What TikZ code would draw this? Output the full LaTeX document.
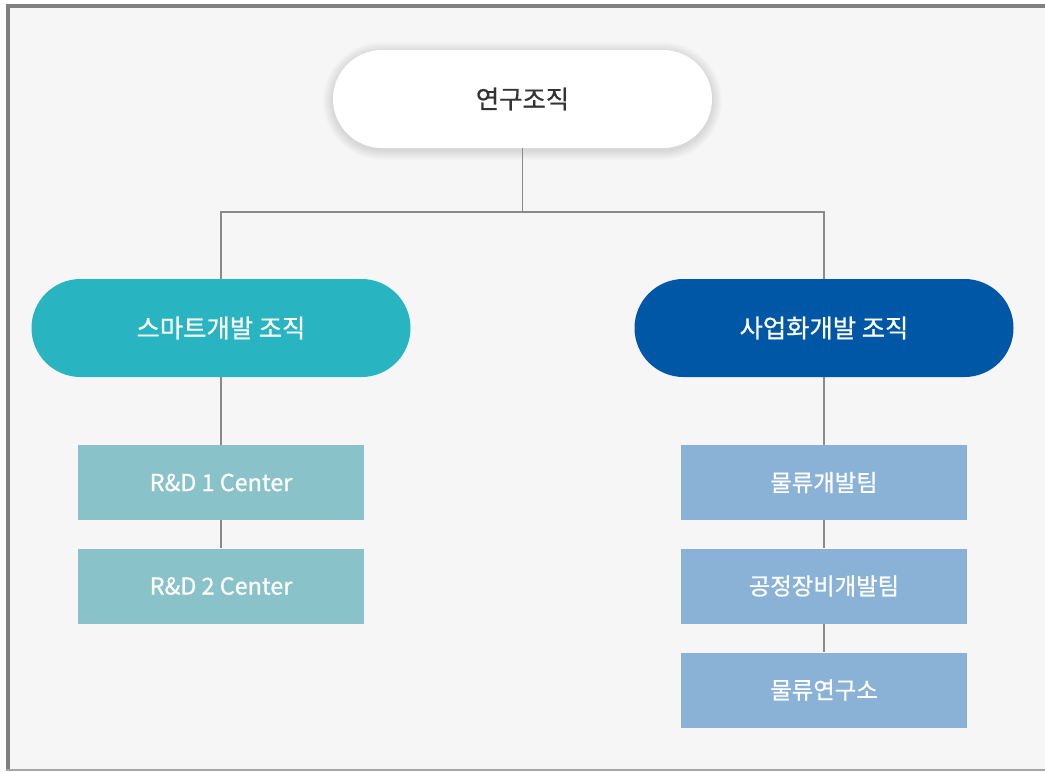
\documentclass[tikz,border=0pt]{standalone}
\usepackage{fontspec}
\newfontfamily\kr{Noto Sans CJK KR}[FakeBold=0.7]
\usetikzlibrary{shapes.misc}
\definecolor{bgc}{HTML}{F6F6F6}
\definecolor{framec}{HTML}{808080}
\definecolor{linec}{HTML}{8A8A8A}
\definecolor{tealc}{HTML}{29B4C2}
\definecolor{bluec}{HTML}{0057A6}
\definecolor{tealbox}{HTML}{89C2C8}
\definecolor{bluebox}{HTML}{8AB2D6}
\definecolor{darktext}{HTML}{333333}
\tikzset{
  pill/.style={rounded rectangle, minimum width=379*0.75pt, minimum height=98*0.75pt, inner sep=0pt, font=\kr\fontsize{19}{21}\selectfont},
  unitbox/.style={rectangle, minimum width=286*0.75pt, minimum height=75*0.75pt, inner sep=0pt, text=white, font=\kr\fontsize{17.5}{19}\selectfont},
  conn/.style={draw=linec, line width=0.8pt},
}
\begin{document}
\begin{tikzpicture}[x=0.75pt,y=-0.75pt]
\useasboundingbox (0,0) rectangle (1045,771);
\fill[white] (0,0) rectangle (1045,771);
\fill[bgc] (6,4) rectangle (1045,771);
\fill[framec] (6,4) rectangle (1045,7.5);
\fill[framec] (6,4) rectangle (9.5,771);
\fill[black!35] (6,769) rectangle (1045,771);
\coordinate (bus) at (522,212);
% soft shadow of the top pill
\foreach \i in {1,...,10}{
  \fill[black, opacity=0.012, rounded corners=(49+\i)*0.75pt]
    (333-\i,50-\i+2) rectangle (712+\i,148+\i+2);
}
\node[pill, fill=white, text=darktext] (top) at (522.5,99) {연구조직};
\node[pill, fill=tealc, text=white] (left) at (221,328) {스마트개발 조직};
\node[pill, fill=bluec, text=white] (right) at (824,328) {사업화개발 조직};
\node[unitbox, fill=tealbox] (l1) at (221,482.5) {R\&D 1 Center};
\node[unitbox, fill=tealbox] (l2) at (221,586) {R\&D 2 Center};
\node[unitbox, fill=bluebox] (r1) at (824,482.5) {물류개발팀};
\node[unitbox, fill=bluebox] (r2) at (824,586) {공정장비개발팀};
\node[unitbox, fill=bluebox] (r3) at (824,690) {물류연구소};
\draw[conn] (top.south) -- (top.south |- bus);
\draw[conn] (left.north) -- (left.north |- bus) -- (right.north |- bus) -- (right.north);
\draw[conn] (left.south) -- (l1.north);
\draw[conn] (l1.south) -- (l2.north);
\draw[conn] (right.south) -- (r1.north);
\draw[conn] (r1.south) -- (r2.north);
\draw[conn] (r2.south) -- (r3.north);
\end{tikzpicture}
\end{document}
